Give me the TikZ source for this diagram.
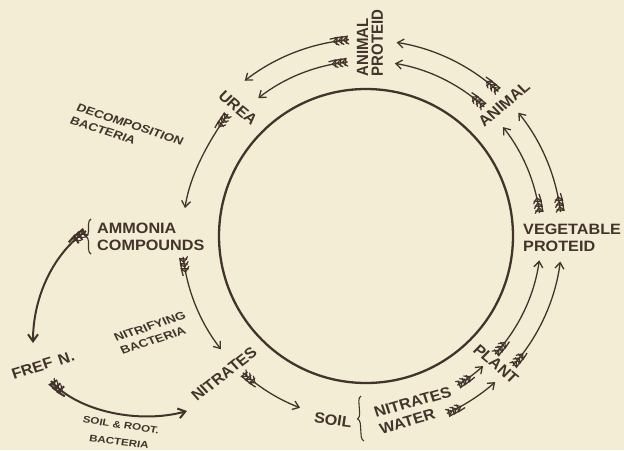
\documentclass[tikz,border=0pt]{standalone}
\usepackage{fontspec}
\setmainfont{Liberation Sans}
\usetikzlibrary{arrows.meta,decorations.markings,decorations.pathreplacing,calc}
\definecolor{paper}{RGB}{243,237,213}
\definecolor{ink}{RGB}{66,52,43}
\newcommand\mychev{\draw[ink,line width=1.2pt,line cap=round,line join=round] (-5pt,4.3pt)--(0pt,0pt)--(-5pt,-4.3pt);}
\tikzset{
  lab/.style={font=\fontsize{15}{17}\selectfont\bfseries, text=ink, inner sep=0pt, align=left, xscale=1.08},
  sml/.style={font=\fontsize{11}{14}\selectfont\bfseries, text=ink, inner sep=0pt, align=left, xscale=1.22},
  con/.style={draw=ink, line width=1.3pt, -{Straight Barb[length=6pt,width=9pt,line width=1.3pt]}},
  heavy/.style={draw=ink, line width=2pt, -{Straight Barb[length=7pt,width=10pt,line width=2pt]}},
  fletch/.style={postaction={decorate,decoration={markings,
     mark=at position 5.5pt with {\mychev},
     mark=at position 10.5pt with {\mychev},
     mark=at position 15.5pt with {\mychev}}}},
  bracey/.style={draw=ink, line width=1.1pt, decorate, decoration={brace, amplitude=5pt}},
}
\begin{document}
\begin{tikzpicture}[x=1pt,y=-1pt]
\fill[paper] (0,0) rectangle (624,450);
\useasboundingbox (0,0) rectangle (624,450);
\coordinate (C) at (366,236);
\node[draw=ink, line width=2.3pt, circle, minimum size=294pt, inner sep=0pt] (cyc) at (C) {};

% labels
\node[lab, font=\fontsize{15}{13.5}\selectfont\bfseries, rotate=90] (ap) at (370,43) {ANIMAL\\PROTEID};
\node[lab, rotate=42] (animal) at (504,104) {ANIMAL};
\node[lab, rotate=-42] (urea) at (238,108) {UREA};
\node[sml, rotate=-22] (decomp) at (127,131) {DECOMPOSITION\\BACTERIA};
\node[lab, anchor=west] (ammonia) at (97,237) {AMMONIA\\COMPOUNDS};
\draw[bracey] (91,254) -- (91,219);
\node[lab, rotate=18] (freen) at (43,365) {FREF\hspace{6pt}N.};
\node[sml, rotate=22] (nitrif) at (153,333) {NITRIFYING\\BACTERIA};
\node[lab, rotate=40] (nitr) at (224,374) {NITRATES};
\node[sml, font=\fontsize{9.5}{11}\selectfont\bfseries, rotate=-10] (sr1) at (121,425) {SOIL \& ROOT.};
\node[sml, font=\fontsize{9.5}{11}\selectfont\bfseries, rotate=-8] (sr2) at (119,442) {BACTERIA};
\node[lab, rotate=-8] (soil) at (333,420) {SOIL};
\draw[bracey] (364,441) -- (361,396);
\node[lab, rotate=17, anchor=west] (nw) at (377,421) {NITRATES\\WATER};
\node[lab, rotate=-42] (plant) at (496,364) {PLANT};
\node[lab, anchor=west] (veg) at (523,238) {VEGETABLE\\PROTEID};

% concentric arcs
\coordinate (a1) at ($(C)+(-95:197)$);
\draw[con,fletch] (a1) arc[start angle=-95,end angle=-128,radius=197];
\coordinate (a2) at ($(C)+(-96:175)$);
\draw[con,fletch] (a2) arc[start angle=-96,end angle=-128,radius=175];
\coordinate (b1) at ($(C)+(-47.5:196)$);
\draw[con,fletch] (b1) arc[start angle=-47.5,end angle=-81,radius=196];
\coordinate (b2) at ($(C)+(-47.5:175)$);
\draw[con,fletch] (b2) arc[start angle=-47.5,end angle=-80.5,radius=175];
\coordinate (c1) at ($(C)+(-7:196)$);
\draw[con,fletch] (c1) arc[start angle=-7,end angle=-39,radius=196];
\coordinate (c2) at ($(C)+(-7.5:175)$);
\draw[con,fletch] (c2) arc[start angle=-7.5,end angle=-38.5,radius=175];
\coordinate (d1) at ($(C)+(41.5:196)$);
\draw[con,fletch] (d1) arc[start angle=41.5,end angle=7.5,radius=196];
\coordinate (d2) at ($(C)+(42.5:175)$);
\draw[con,fletch] (d2) arc[start angle=42.5,end angle=8,radius=175];
\coordinate (e1) at ($(C)+(58.5:175)$);
\draw[con,fletch] (e1) arc[start angle=58.5,end angle=48,radius=175];
\coordinate (e2) at ($(C)+(65.5:195)$);
\draw[con,fletch] (e2) arc[start angle=65.5,end angle=48.5,radius=195];
\coordinate (f1) at ($(C)+(173.5:184)$);
\draw[con,fletch] (f1) arc[start angle=173.5,end angle=142,radius=184];
\coordinate (f2) at ($(C)+(132:184)$);
\draw[con,fletch] (f2) arc[start angle=132,end angle=111,radius=184];

% free curves
\coordinate (u0) at (228,114);
\coordinate (u1) at (185,208);
\draw[con,fletch] (u0) .. controls (208,142) and (190,175) .. (u1);
\coordinate (m0) at (86,231);
\coordinate (m1) at (33,343);
\draw[heavy,fletch] (m0) .. controls (55,252) and (33,295) .. (m1);
\coordinate (n0) at (51,381);
\coordinate (n1) at (187,411);
\draw[heavy,fletch] (n0) .. controls (78,412) and (140,424) .. (n1);
\end{tikzpicture}
\end{document}
